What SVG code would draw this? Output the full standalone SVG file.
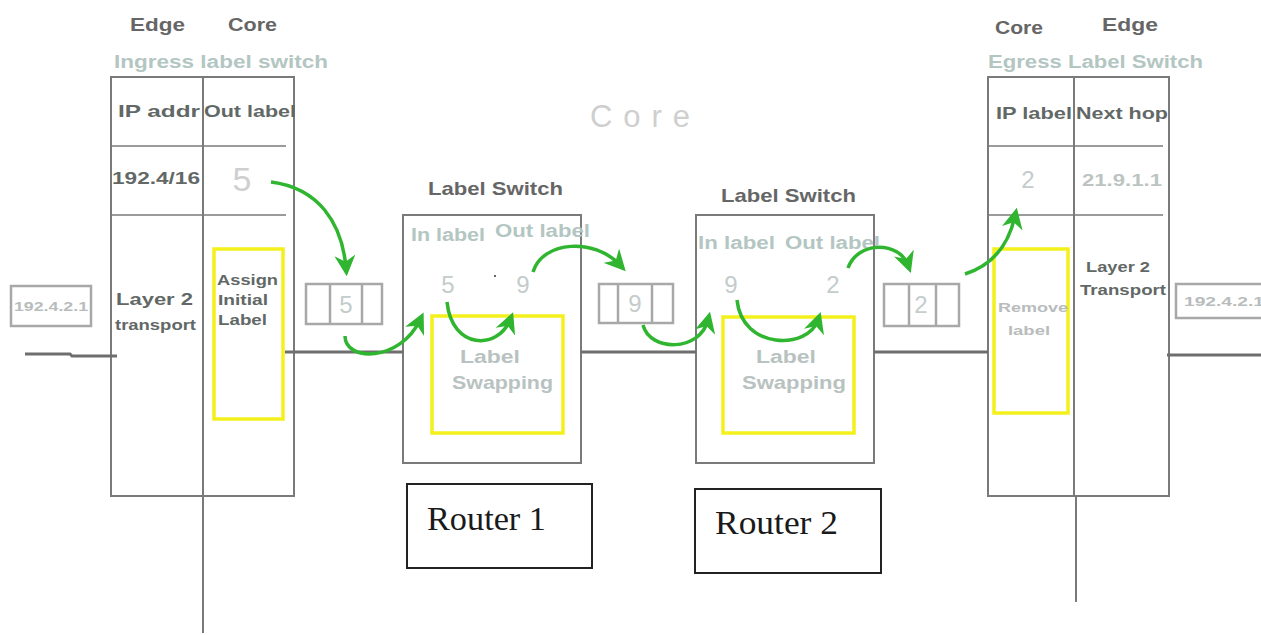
<svg xmlns="http://www.w3.org/2000/svg" width="1261" height="635" viewBox="0 0 1261 635">
<style>
.frame{fill:none;stroke:#7a7a7a;stroke-width:2}
.thin{fill:none;stroke:#7a7a7a;stroke-width:1.5}
.wire{fill:none;stroke:#6e6e6e;stroke-width:3}
.yel{fill:none;stroke:#f4f01c;stroke-width:3.5}
.pkt{fill:none;stroke:#a8a8a8;stroke-width:2.5}
.rbox{fill:#fff;stroke:#222;stroke-width:2}
.hd{font-family:"Liberation Sans",Arial,sans-serif;font-weight:bold;font-size:19px;fill:#666}
.tb{font-family:"Liberation Sans",Arial,sans-serif;font-weight:bold;font-size:17px;fill:#626866}
.lt{font-family:"Liberation Sans",Arial,sans-serif;font-weight:bold;font-size:18px;fill:#b3c6c2}
.num{font-family:"Liberation Sans",Arial,sans-serif;font-size:24px;fill:#c4cccc}
.big{font-family:"Liberation Sans",Arial,sans-serif;font-size:34px;fill:#cfcfcf}
.pk{font-family:"Liberation Sans",Arial,sans-serif;font-weight:bold;font-size:12px;fill:#b8bcbc}
.sw{font-family:"Liberation Sans",Arial,sans-serif;font-weight:bold;font-size:19px;fill:#b8c2c0}
.rt{font-family:"Liberation Serif","Times New Roman",serif;font-size:34px;fill:#1a1a1a}
.arr{fill:none;stroke:#2fb52f;stroke-width:3.5;marker-end:url(#ah)}
</style>
<defs>
<marker id="ah" viewBox="0 0 10 10" refX="6" refY="5" markerWidth="6" markerHeight="6" markerUnits="strokeWidth" orient="auto">
<path d="M0,0 L10,5 L0,10 L3,5 Z" fill="#2fb52f"/>
</marker>
</defs>
<rect width="1261" height="635" fill="#fff"/>

<text x="590" y="127" class="big" style="font-size:31px" textLength="100" lengthAdjust="spacing">Core</text>

<g id="ingress">
<text x="130" y="31" class="hd" textLength="55" lengthAdjust="spacingAndGlyphs">Edge</text>
<text x="228" y="31" class="hd" textLength="49" lengthAdjust="spacingAndGlyphs">Core</text>
<text x="114" y="68" class="lt" textLength="214" lengthAdjust="spacingAndGlyphs">Ingress label switch</text>
<rect x="111" y="77" width="183" height="419" class="frame"/>
<line x1="203" y1="77" x2="203" y2="633" class="frame"/>
<line x1="111" y1="146" x2="286" y2="146" class="thin"/>
<line x1="111" y1="215" x2="286" y2="215" class="thin"/>
<text x="118" y="117" class="tb" textLength="82" lengthAdjust="spacingAndGlyphs">IP addr</text>
<text x="204" y="117" class="tb" textLength="92" lengthAdjust="spacingAndGlyphs">Out label</text>
<text x="112" y="184" class="tb" textLength="88" lengthAdjust="spacingAndGlyphs">192.4/16</text>
<text x="242" y="191" text-anchor="middle" class="big">5</text>
<text x="116" y="305" class="tb" textLength="77" lengthAdjust="spacingAndGlyphs">Layer 2</text>
<text x="115" y="330" class="tb" style="font-size:15px" textLength="81" lengthAdjust="spacingAndGlyphs">transport</text>
<rect x="214" y="249" width="69" height="170" class="yel"/>
<text x="217" y="285" class="tb" style="font-size:15px" textLength="61" lengthAdjust="spacingAndGlyphs">Assign</text>
<text x="218" y="305" class="tb" style="font-size:15px" textLength="50" lengthAdjust="spacingAndGlyphs">Initial</text>
<text x="218" y="325" class="tb" style="font-size:15px" textLength="49" lengthAdjust="spacingAndGlyphs">Label</text>
</g>

<g id="packet-left">
<rect x="11" y="286" width="80" height="40" class="pkt"/>
<text x="14" y="311" class="pk" textLength="74" lengthAdjust="spacingAndGlyphs">192.4.2.1</text>
</g>

<g id="packet-5">
<rect x="306" y="284" width="76" height="40" class="pkt"/>
<line x1="330" y1="284" x2="330" y2="324" class="pkt"/>
<line x1="362" y1="284" x2="362" y2="324" class="pkt"/>
<text x="346" y="313" text-anchor="middle" class="num">5</text>
</g>

<g id="router1">
<text x="428" y="195" class="hd" textLength="135" lengthAdjust="spacingAndGlyphs">Label Switch</text>
<rect x="403" y="215" width="178" height="248" class="frame"/>
<text x="411" y="241" class="lt" textLength="74" lengthAdjust="spacingAndGlyphs">In label</text>
<text x="495" y="237" class="lt" textLength="95" lengthAdjust="spacingAndGlyphs">Out label</text>
<text x="448" y="293" text-anchor="middle" class="num">5</text>
<circle cx="495" cy="276" r="1" fill="#333"/>
<text x="523" y="293" text-anchor="middle" class="num">9</text>
<rect x="432" y="316" width="131" height="117" class="yel"/>
<text x="460" y="363" class="sw" textLength="60" lengthAdjust="spacingAndGlyphs">Label</text>
<text x="452" y="389" class="sw" textLength="101" lengthAdjust="spacingAndGlyphs">Swapping</text>
</g>

<g id="router1-label">
<rect x="407" y="484" width="185" height="84" class="rbox"/>
<text x="427" y="530" class="rt" textLength="119" lengthAdjust="spacingAndGlyphs">Router 1</text>
</g>

<g id="packet-9">
<rect x="599" y="284" width="74" height="39" class="pkt"/>
<line x1="618" y1="284" x2="618" y2="323" class="pkt"/>
<line x1="652" y1="284" x2="652" y2="323" class="pkt"/>
<text x="635" y="312" text-anchor="middle" class="num">9</text>
</g>

<g id="router2">
<text x="721" y="202" class="hd" textLength="135" lengthAdjust="spacingAndGlyphs">Label Switch</text>
<rect x="696" y="215" width="178" height="248" class="frame"/>
<text x="698" y="249" class="lt" textLength="77" lengthAdjust="spacingAndGlyphs">In label</text>
<text x="785" y="249" class="lt" textLength="95" lengthAdjust="spacingAndGlyphs">Out label</text>
<text x="731" y="293" text-anchor="middle" class="num">9</text>
<text x="833" y="293" text-anchor="middle" class="num">2</text>
<rect x="723" y="317" width="131" height="116" class="yel"/>
<text x="756" y="363" class="sw" textLength="60" lengthAdjust="spacingAndGlyphs">Label</text>
<text x="742" y="389" class="sw" textLength="104" lengthAdjust="spacingAndGlyphs">Swapping</text>
</g>

<g id="router2-label">
<rect x="695" y="489" width="186" height="84" class="rbox"/>
<text x="715" y="534" class="rt" textLength="123" lengthAdjust="spacingAndGlyphs">Router 2</text>
</g>

<g id="packet-2">
<rect x="884" y="284" width="75" height="42" class="pkt"/>
<line x1="909" y1="284" x2="909" y2="326" class="pkt"/>
<line x1="936" y1="284" x2="936" y2="326" class="pkt"/>
<text x="921" y="313" text-anchor="middle" class="num">2</text>
</g>

<g id="egress">
<text x="995" y="34" class="hd" textLength="48" lengthAdjust="spacingAndGlyphs">Core</text>
<text x="1102" y="31" class="hd" textLength="56" lengthAdjust="spacingAndGlyphs">Edge</text>
<text x="988" y="68" class="lt" textLength="215" lengthAdjust="spacingAndGlyphs">Egress Label Switch</text>
<rect x="988" y="77" width="181" height="419" class="frame"/>
<line x1="1074" y1="77" x2="1074" y2="496" class="frame"/>
<line x1="1076" y1="496" x2="1076" y2="602" class="frame"/>
<line x1="988" y1="146" x2="1163" y2="146" class="thin"/>
<line x1="988" y1="215" x2="1163" y2="215" class="thin"/>
<text x="996" y="119" class="tb" textLength="76" lengthAdjust="spacingAndGlyphs">IP label</text>
<text x="1076" y="119" class="tb" textLength="92" lengthAdjust="spacingAndGlyphs">Next hop</text>
<text x="1028" y="188" text-anchor="middle" class="num">2</text>
<text x="1082" y="186" class="tb" style="fill:#bcc4c2" textLength="80" lengthAdjust="spacingAndGlyphs">21.9.1.1</text>
<rect x="994" y="249" width="74" height="164" class="yel"/>
<text x="998" y="312" class="pk" style="font-size:13px" textLength="70" lengthAdjust="spacingAndGlyphs">Remove</text>
<text x="1008" y="335" class="pk" style="font-size:13px" textLength="42" lengthAdjust="spacingAndGlyphs">label</text>
<text x="1086" y="272" class="tb" style="font-size:15px" textLength="64" lengthAdjust="spacingAndGlyphs">Layer 2</text>
<text x="1080" y="295" class="tb" style="font-size:15px" textLength="86" lengthAdjust="spacingAndGlyphs">Transport</text>
</g>

<g id="packet-right">
<rect x="1176" y="284" width="95" height="34" class="pkt"/>
<text x="1184" y="306" class="pk" textLength="80" lengthAdjust="spacingAndGlyphs">192.4.2.1</text>
</g>

<g id="connectors">
<polyline points="25,354 70,354 72,356 117,356" class="wire"/>
<line x1="285" y1="352" x2="403" y2="352" class="wire"/>
<line x1="581" y1="352" x2="696" y2="352" class="wire"/>
<line x1="874" y1="352" x2="988" y2="352" class="wire"/>
<line x1="1167" y1="355" x2="1261" y2="355" class="wire"/>
<path d="M271,182 C318,188 342,222 346,268" class="arr"/>
<path d="M345,336 C345,362 400,362 420,320" class="arr"/>
<path d="M447,302 C452,350 498,350 510,320" class="arr"/>
<path d="M533,272 C543,240 595,238 620,265" class="arr"/>
<path d="M643,325 C650,352 700,352 708,320" class="arr"/>
<path d="M737,300 C742,350 808,350 818,320" class="arr"/>
<path d="M848,268 C858,240 900,242 908,265" class="arr"/>
<path d="M965,274 C990,266 1008,248 1015,216" class="arr"/>
</g>
</svg>
